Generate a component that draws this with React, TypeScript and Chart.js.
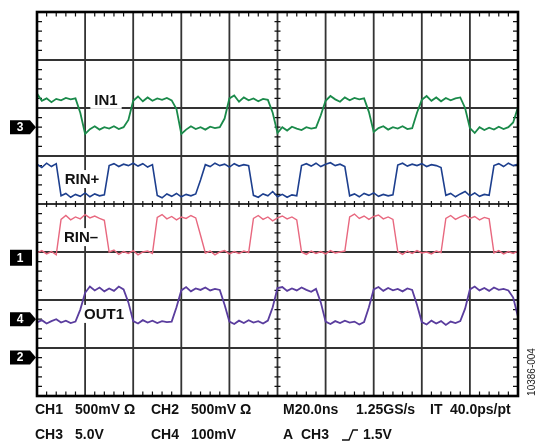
import React, { useEffect, useRef } from "react";
import { Chart, registerables } from "chart.js";

Chart.register(...registerables);

// Time base: 20 ns/div, 10 divisions, sampled every 2 ns
const SAMPLE_STEP_NS = 2;
const TIME_NS = Array.from({ length: 101 }, (_, i) => i * SAMPLE_STEP_NS);

// Vertical values in screen divisions (centre = 0, -4..4)
const IN1 = [
  2.30, 2.15, 2.20, 2.12, 2.19, 2.16, 2.21, 2.18, 2.20, 1.90,
  1.46, 1.56, 1.62, 1.55, 1.60, 1.57, 1.62, 1.56, 1.60, 1.75,
  2.15, 2.24, 2.14, 2.22, 2.15, 2.20, 2.17, 2.21, 2.16, 1.98,
  1.46, 1.55, 1.62, 1.56, 1.60, 1.55, 1.61, 1.58, 1.60, 1.78,
  2.20, 2.26, 2.13, 2.22, 2.16, 2.20, 2.14, 2.19, 2.17, 1.90,
  1.48, 1.60, 1.53, 1.61, 1.57, 1.54, 1.60, 1.57, 1.59, 1.85,
  2.15, 2.25, 2.18, 2.13, 2.22, 2.16, 2.21, 2.18, 2.20, 1.92,
  1.50, 1.58, 1.62, 1.55, 1.60, 1.57, 1.62, 1.56, 1.58, 1.90,
  2.17, 2.25, 2.15, 2.22, 2.14, 2.21, 2.16, 2.20, 2.22, 2.00,
  1.58, 1.48, 1.60, 1.54, 1.59, 1.55, 1.61, 1.56, 1.60, 1.70,
  2.02,
];

const RIN_PLUS = [
  0.83, 0.76, 0.85, 0.78, 0.84, 0.17, 0.22, 0.14, 0.20, 0.16,
  0.23, 0.15, 0.21, 0.17, 0.19, 0.80, 0.84, 0.78, 0.83, 0.80,
  0.85, 0.79, 0.84, 0.77, 0.82, 0.18, 0.13, 0.21, 0.16, 0.22,
  0.15, 0.20, 0.17, 0.21, 0.50, 0.82, 0.78, 0.85, 0.80, 0.83,
  0.77, 0.84, 0.79, 0.82, 0.80, 0.18, 0.14, 0.21, 0.17, 0.26,
  0.15, 0.20, 0.14, 0.19, 0.17, 0.80, 0.84, 0.79, 0.85, 0.78,
  0.83, 0.86, 0.80, 0.83, 0.78, 0.17, 0.21, 0.15, 0.22, 0.18,
  0.23, 0.16, 0.20, 0.17, 0.19, 0.81, 0.85, 0.79, 0.83, 0.80,
  0.84, 0.78, 0.82, 0.80, 0.76, 0.18, 0.22, 0.15, 0.21, 0.26,
  0.17, 0.23, 0.16, 0.20, 0.18, 0.80, 0.84, 0.78, 0.85, 0.80,
  0.83,
];

const RIN_MINUS = [
  -1.02, -0.97, -1.04, -0.99, -1.06, -0.32, -0.24, -0.33, -0.27, -0.31,
  -0.22, -0.29, -0.25, -0.30, -0.34, -1.00, -0.96, -1.05, -0.99, -1.03,
  -0.97, -1.06, -1.00, -0.98, -1.03, -0.28, -0.22, -0.31, -0.26, -0.33,
  -0.27, -0.30, -0.24, -0.29, -0.65, -1.02, -0.98, -1.06, -1.00, -0.97,
  -1.04, -0.99, -1.03, -0.98, -1.01, -0.30, -0.24, -0.32, -0.27, -0.35,
  -0.29, -0.25, -0.31, -0.27, -0.33, -1.00, -1.05, -0.98, -1.03, -0.99,
  -1.04, -0.97, -1.02, -1.00, -0.98, -0.27, -0.21, -0.30, -0.25, -0.32,
  -0.26, -0.23, -0.31, -0.27, -0.32, -0.99, -1.05, -0.98, -1.03, -0.97,
  -1.02, -1.00, -1.04, -0.98, -1.01, -0.30, -0.24, -0.32, -0.27, -0.23,
  -0.30, -0.26, -0.33, -0.28, -0.31, -1.02, -0.97, -1.04, -0.99, -1.03,
  -0.98,
];

const OUT1 = [
  -2.47, -2.42, -2.49, -2.44, -2.40, -2.47, -2.43, -2.48, -2.45, -2.20,
  -1.85, -1.72, -1.80, -1.74, -1.82, -1.76, -1.81, -1.72, -1.78, -2.05,
  -2.44, -2.49, -2.42, -2.47, -2.43, -2.48, -2.44, -2.46, -2.45, -2.15,
  -1.80, -1.73, -1.82, -1.76, -1.79, -1.74, -1.80, -1.77, -1.79, -2.10,
  -2.45, -2.50, -2.43, -2.48, -2.42, -2.47, -2.44, -2.49, -2.43, -2.15,
  -1.75, -1.73, -1.81, -1.76, -1.80, -1.74, -1.79, -1.83, -1.77, -2.05,
  -2.45, -2.50, -2.44, -2.48, -2.43, -2.47, -2.45, -2.51, -2.46, -2.15,
  -1.78, -1.73, -1.81, -1.75, -1.80, -1.77, -1.82, -1.76, -1.79, -2.10,
  -2.46, -2.51, -2.43, -2.49, -2.44, -2.52, -2.45, -2.48, -2.44, -2.18,
  -1.78, -1.72, -1.80, -1.75, -1.81, -1.74, -1.79, -1.77, -1.80, -1.95,
  -2.35,
];

// Trace labels: [text, time ns, divisions]
const TRACE_LABELS: [string, number, number][] = [
  ["IN1", 28.7, 2.17],
  ["RIN+", 18.7, 0.52],
  ["RIN\u2013", 18.3, -0.69],
  ["OUT1", 27.9, -2.29],
];

// Channel ground markers: [label, divisions, arrow]
const CH_MARKERS: [string, number, boolean][] = [
  ["3", 1.6, true],
  ["1", -1.12, false],
  ["4", -2.4, true],
  ["2", -3.2, true],
];

const X_MIN = 0;
const X_MAX = 200;
const X_DIV = 20;
const Y_MIN = -4;
const Y_MAX = 4;

const LINE1: [string, number][] = [
  ["CH1", 35],
  ["500mV \u03A9", 75],
  ["CH2", 151],
  ["500mV \u03A9", 191],
  ["M20.0ns", 283],
  ["1.25GS/s", 356],
  ["IT", 430],
  ["40.0ps/pt", 450],
];
const LINE2: [string, number][] = [
  ["CH3", 35],
  ["5.0V", 75],
  ["CH4", 151],
  ["100mV", 191],
  ["A", 283],
  ["CH3", 301],
  ["1.5V", 363],
];

const COLORS = {
  in1: "#1a8a4a",
  rinp: "#1d3f8e",
  rinm: "#e8687f",
  out1: "#5a3d9e",
};

const scopePlugin = {
  id: "scopeDecor",
  beforeDraw(chart: any) {
    const ctx = chart.ctx;
    ctx.save();
    ctx.fillStyle = "#ffffff";
    ctx.fillRect(0, 0, chart.width, chart.height);
    ctx.restore();
  },
  beforeDatasetsDraw(chart: any) {
    const ctx = chart.ctx;
    const xs = chart.scales.x;
    const ys = chart.scales.y;
    const L = xs.getPixelForValue(X_MIN);
    const R = xs.getPixelForValue(X_MAX);
    const T = ys.getPixelForValue(Y_MAX);
    const B = ys.getPixelForValue(Y_MIN);
    ctx.save();
    // major grid
    ctx.strokeStyle = "#333333";
    ctx.lineWidth = 1.8;
    ctx.beginPath();
    for (let t = X_MIN + X_DIV; t < X_MAX; t += X_DIV) {
      const x = xs.getPixelForValue(t);
      ctx.moveTo(x, T);
      ctx.lineTo(x, B);
    }
    for (let v = Y_MIN + 1; v < Y_MAX; v += 1) {
      const y = ys.getPixelForValue(v);
      ctx.moveTo(L, y);
      ctx.lineTo(R, y);
    }
    ctx.stroke();
    // minor ticks
    ctx.strokeStyle = "#111111";
    ctx.lineWidth = 1.2;
    ctx.beginPath();
    const cy = ys.getPixelForValue(0);
    const cx = xs.getPixelForValue((X_MIN + X_MAX) / 2);
    for (let k = 1; k < 50; k++) {
      if (k % 5 === 0) continue;
      const x = xs.getPixelForValue(X_MIN + (k * X_DIV) / 5);
      ctx.moveTo(x, T);
      ctx.lineTo(x, T + 4.5);
      ctx.moveTo(x, B);
      ctx.lineTo(x, B - 4.5);
      ctx.moveTo(x, cy - 3);
      ctx.lineTo(x, cy + 3);
    }
    for (let k = 1; k < 40; k++) {
      if (k % 5 === 0) continue;
      const y = ys.getPixelForValue(Y_MIN + k / 5);
      ctx.moveTo(L, y);
      ctx.lineTo(L + 5, y);
      ctx.moveTo(R, y);
      ctx.lineTo(R - 5, y);
      ctx.moveTo(cx - 3, y);
      ctx.lineTo(cx + 3, y);
    }
    ctx.stroke();
    // trace labels with white backing
    ctx.font = 'bold 15px "Liberation Sans", Arial, sans-serif';
    ctx.textAlign = "center";
    ctx.textBaseline = "middle";
    for (const [txt, t, v] of TRACE_LABELS) {
      const x = xs.getPixelForValue(t);
      const y = ys.getPixelForValue(v);
      const w = ctx.measureText(txt).width;
      ctx.fillStyle = "#ffffff";
      ctx.fillRect(x - w / 2 - 4, y - 9, w + 8, 18);
      ctx.fillStyle = "#111111";
      ctx.fillText(txt, x, y + 1);
    }
    ctx.restore();
  },
  afterDatasetsDraw(chart: any) {
    const ctx = chart.ctx;
    const xs = chart.scales.x;
    const ys = chart.scales.y;
    const L = xs.getPixelForValue(X_MIN);
    const R = xs.getPixelForValue(X_MAX);
    const T = ys.getPixelForValue(Y_MAX);
    const B = ys.getPixelForValue(Y_MIN);
    ctx.save();
    // border
    ctx.strokeStyle = "#000000";
    ctx.lineWidth = 2.6;
    ctx.strokeRect(L, T, R - L, B - T);
    // channel markers
    for (const [lab, v, arrow] of CH_MARKERS) {
      const y = ys.getPixelForValue(v);
      ctx.fillStyle = "#000000";
      ctx.beginPath();
      if (arrow) {
        const h = 7;
        ctx.moveTo(10, y - h);
        ctx.lineTo(30, y - h);
        ctx.lineTo(36, y);
        ctx.lineTo(30, y + h);
        ctx.lineTo(10, y + h);
      } else {
        const h = 8;
        ctx.moveTo(10, y - h);
        ctx.lineTo(32, y - h);
        ctx.lineTo(32, y + h);
        ctx.lineTo(10, y + h);
      }
      ctx.closePath();
      ctx.fill();
      ctx.fillStyle = "#ffffff";
      ctx.font = 'bold 12px "Liberation Sans", Arial, sans-serif';
      ctx.textAlign = "center";
      ctx.textBaseline = "middle";
      ctx.fillText(lab, 20, y + 0.5);
    }
    // bottom settings text
    ctx.fillStyle = "#111111";
    ctx.font = 'bold 14px "Liberation Sans", Arial, sans-serif';
    ctx.textAlign = "left";
    ctx.textBaseline = "middle";
    for (const [txt, x] of LINE1) ctx.fillText(txt, x, 410);
    for (const [txt, x] of LINE2) ctx.fillText(txt, x, 435);
    // trigger slope symbol
    ctx.strokeStyle = "#111111";
    ctx.lineWidth = 1.4;
    ctx.beginPath();
    ctx.moveTo(342, 440);
    ctx.lineTo(349, 440);
    ctx.lineTo(353, 430);
    ctx.lineTo(358, 430);
    ctx.stroke();
    // figure id
    ctx.save();
    ctx.translate(532, 372);
    ctx.rotate(-Math.PI / 2);
    ctx.font = '10px "Liberation Sans", Arial, sans-serif';
    ctx.textAlign = "center";
    ctx.textBaseline = "middle";
    ctx.fillStyle = "#222222";
    ctx.fillText("10386-004", 0, 0);
    ctx.restore();
    ctx.restore();
  },
};

function toPoints(vals: number[]) {
  return vals.map((v, i) => ({ x: TIME_NS[i], y: v }));
}

export default function App() {
  const ref = useRef<HTMLCanvasElement | null>(null);
  useEffect(() => {
    if (!ref.current) return;
    const chart = new Chart(ref.current, {
      type: "line",
      data: {
        datasets: [
          { label: "IN1", data: toPoints(IN1), borderColor: COLORS.in1, borderWidth: 1.8 },
          { label: "RIN+", data: toPoints(RIN_PLUS), borderColor: COLORS.rinp, borderWidth: 1.6 },
          { label: "RIN\u2013", data: toPoints(RIN_MINUS), borderColor: COLORS.rinm, borderWidth: 1.4 },
          { label: "OUT1", data: toPoints(OUT1), borderColor: COLORS.out1, borderWidth: 1.8 },
        ],
      },
      options: {
        animation: false,
        responsive: false,
        maintainAspectRatio: false,
        devicePixelRatio: 1,
        layout: { padding: { left: 37, top: 12, right: 20, bottom: 49 } },
        elements: { point: { radius: 0 }, line: { tension: 0 } },
        plugins: { legend: { display: false }, tooltip: { enabled: false }, title: { display: false } },
        scales: {
          x: { type: "linear", min: X_MIN, max: X_MAX, display: false },
          y: { type: "linear", min: Y_MIN, max: Y_MAX, display: false },
        },
      },
      plugins: [scopePlugin],
    } as any);
    return () => chart.destroy();
  }, []);
  return (
    <canvas
      ref={ref}
      width={538}
      height={445}
      style={{ position: "fixed", left: 0, top: 0, width: 538, height: 445 }}
    />
  );
}
